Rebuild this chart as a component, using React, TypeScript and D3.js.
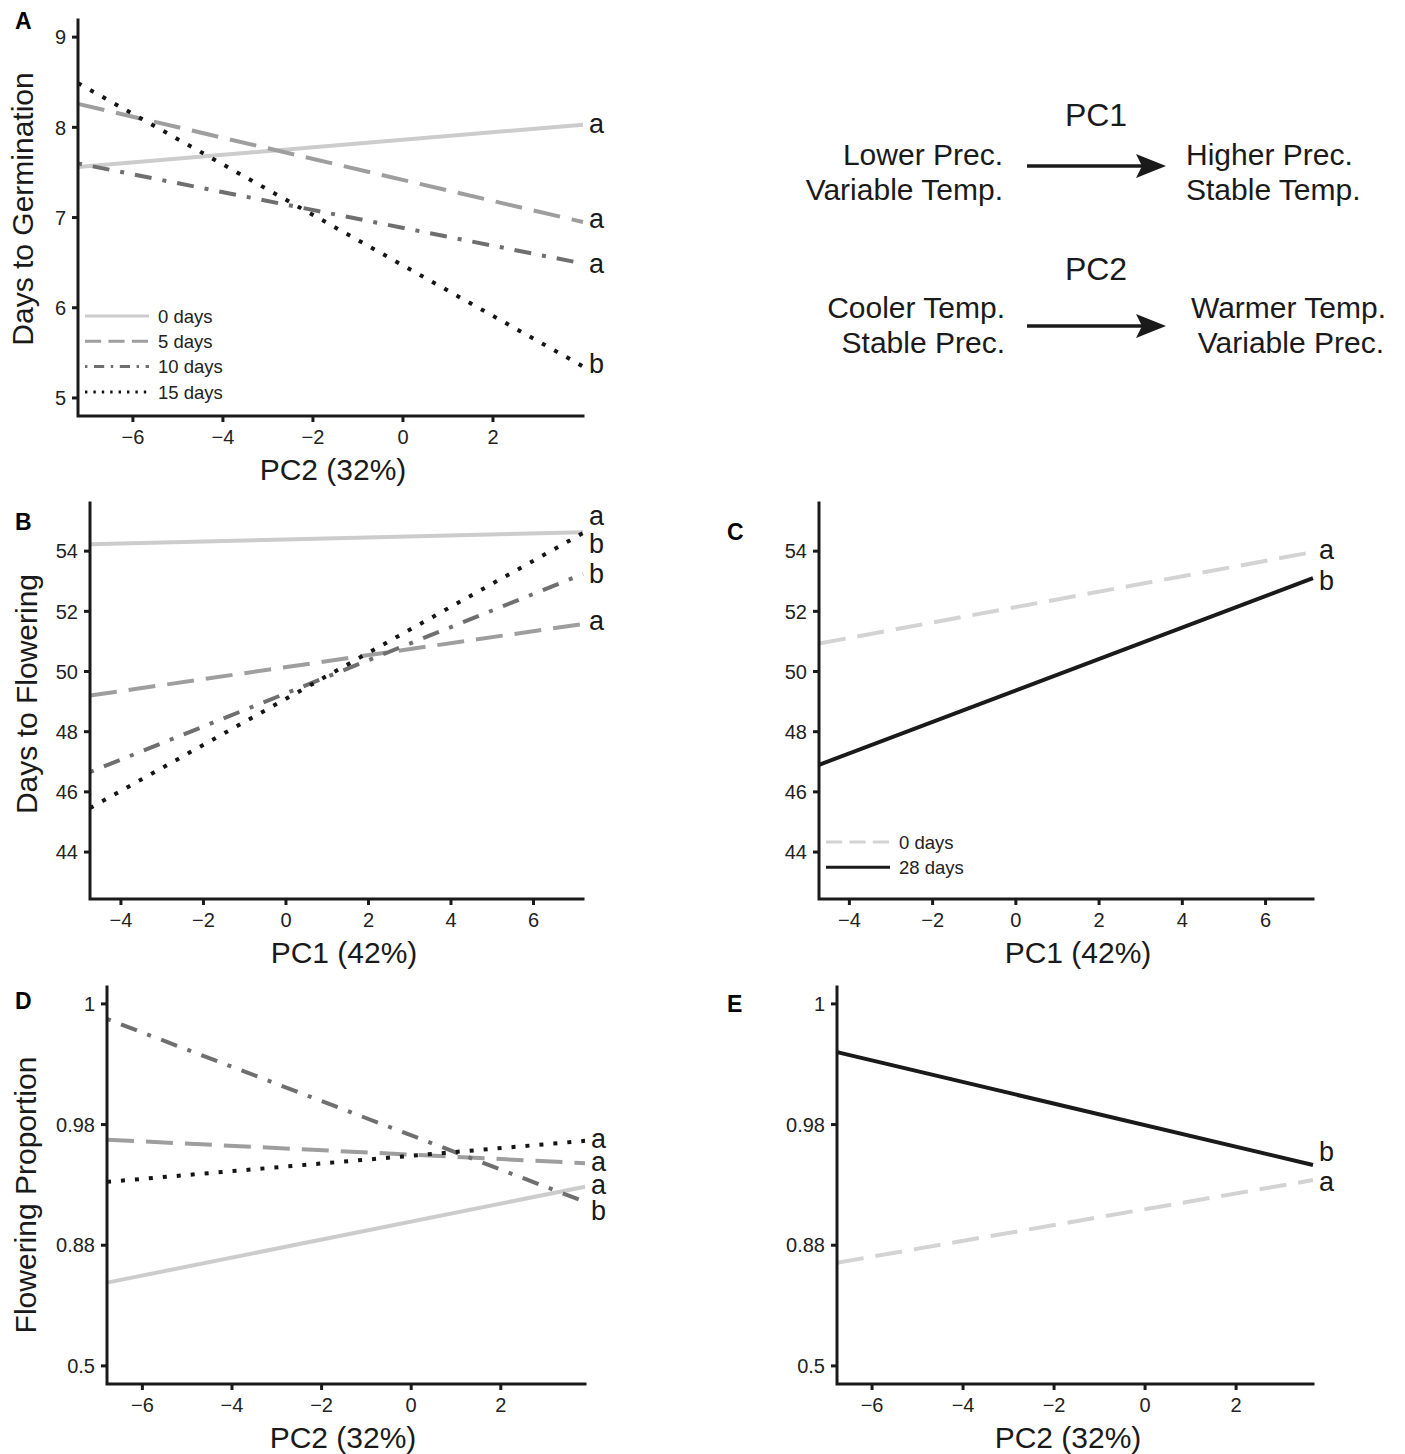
import * as d3 from "d3";

// ---- data ----

// A: days to germination vs PC2
const germX = [-7.22, 4.0];
const germSeries = ["0 days", "5 days", "10 days", "15 days"];
const germStart = [7.56, 8.26, 7.6, 8.49];
const germEnd = [8.03, 6.95, 6.49, 5.35];
const germLetters = ["a", "a", "a", "b"];
const germLetterY = [8.03, 6.97, 6.47, 5.37];
const germYTicks = [5, 6, 7, 8, 9];
const pc2Ticks = [-6, -4, -2, 0, 2];

// B: days to flowering vs PC1, four treatments
const flowX = [-4.75, 7.2];
const flowStart = [54.23, 49.2, 46.66, 45.46];
const flowEnd = [54.63, 51.58, 53.24, 54.6];
const flowLetters = ["a", "a", "b", "b"];
const flowLetterY = [55.13, 51.64, 53.2, 54.2];
const flowYTicks = [44, 46, 48, 50, 52, 54];
const pc1Ticks = [-4, -2, 0, 2, 4, 6];

// C: days to flowering vs PC1, two treatments
const vernSeries = ["0 days", "28 days"];
const vernX = [-4.73, 7.14];
const vernStart = [50.93, 46.9];
const vernEnd = [53.97, 53.1];
const vernLetters = ["a", "b"];
const vernLetterY = [54.0, 52.97];

// D: flowering proportion (logit scale) vs PC2, four treatments
const propX = [-6.79, 3.88];
const propStart = [1.38, 3.75, 5.75, 3.05];
const propEnd = [2.97, 3.36, 2.72, 3.73];
const propLetters = ["a", "a", "b", "a"];
const propLetterY = [2.98, 3.36, 2.55, 3.75];
const logitTicks = [0, 2, 4, 6];
const logitLabels = ["0.5", "0.88", "0.98", "1"];

// E: flowering proportion vs PC2, two treatments
const prop2X = [-6.77, 3.69];
const prop2Start = [1.71, 5.2];
const prop2End = [3.08, 3.33];
const prop2Letters = ["a", "b"];
const prop2LetterY = [3.03, 3.53];

// ---- styles ----
const FONT = "'Liberation Sans', Arial, Helvetica, sans-serif";
const styleFour: Record<string, { stroke: string; dash: string }> = {
  "0 days": { stroke: "#cccccc", dash: "" },
  "5 days": { stroke: "#9e9e9e", dash: "27,12" },
  "10 days": { stroke: "#6f6f6f", dash: "4,11,17,11" },
  "15 days": { stroke: "#151515", dash: "4,10" },
};
const styleTwo: Record<string, { stroke: string; dash: string }> = {
  "0 days": { stroke: "#d3d3d3", dash: "27,12" },
  "28 days": { stroke: "#1a1a1a", dash: "" },
};

type Frame = { left: number; right: number; top: number; bottom: number };

function Panel({
  frame, xDomain, yDomain, xTicks, yTicks, yFormat, series, starts, ends,
  letters, letterY, styles, legend, tag, tagPos, xTitle, xTitleX, yTitle, yTitlePos,
}: {
  frame: Frame; xDomain: number[]; yDomain: number[]; xTicks: number[];
  yTicks: number[]; yFormat: (d: number, i: number) => string;
  series: string[]; starts: number[]; ends: number[];
  letters: string[]; letterY: number[];
  styles: Record<string, { stroke: string; dash: string }>;
  legend?: { x: number; y: number };
  tag: string; tagPos: [number, number];
  xTitle: string; xTitleX: number; yTitle?: string; yTitlePos?: [number, number];
}) {
  const x = d3.scaleLinear(xDomain, [frame.left, frame.right]);
  const y = d3.scaleLinear(yDomain, [frame.bottom, frame.top]);
  const fmt = d3.format("d");
  return (
    <g>
      <text x={tagPos[0]} y={tagPos[1]} fontFamily={FONT} fontWeight="bold" fontSize={23}>{tag}</text>
      {series.map((s, i) => (
        <line key={s} x1={x(xDomain[0])} y1={y(starts[i])} x2={x(xDomain[1])} y2={y(ends[i])}
          stroke={styles[s].stroke} strokeWidth={4} strokeDasharray={styles[s].dash || undefined} />
      ))}
      {letters.map((l, i) => (
        <text key={i} x={frame.right + 6} y={y(letterY[i]) + 8} fontFamily={FONT} fontSize={27} fill="#1a1a1a">{l}</text>
      ))}
      {/* axes */}
      <path d={`M${frame.left},${frame.top}V${frame.bottom}H${frame.right}`} fill="none" stroke="#1a1a1a" strokeWidth={3} strokeLinecap="square" />
      {yTicks.map((t, i) => (
        <g key={t} transform={`translate(${frame.left},${y(t)})`}>
          <line x1={-6} x2={0} stroke="#1a1a1a" strokeWidth={3} />
          <text x={-12} dy="0.36em" textAnchor="end" fontFamily={FONT} fontSize={20} fill="#222">{yFormat(t, i)}</text>
        </g>
      ))}
      {xTicks.map((t) => (
        <g key={t} transform={`translate(${x(t)},${frame.bottom})`}>
          <line y1={0} y2={6} stroke="#1a1a1a" strokeWidth={3} />
          <text y={28} textAnchor="middle" fontFamily={FONT} fontSize={20} fill="#222">{fmt(t)}</text>
        </g>
      ))}
      <text x={xTitleX} y={frame.bottom + 64} textAnchor="middle" fontFamily={FONT} fontSize={30} fill="#1a1a1a">{xTitle}</text>
      {yTitle && yTitlePos && (
        <text transform={`translate(${yTitlePos[0]},${yTitlePos[1]}) rotate(-90)`} textAnchor="middle" fontFamily={FONT} fontSize={30} fill="#1a1a1a">{yTitle}</text>
      )}
      {legend && series.map((s, i) => (
        <g key={s} transform={`translate(${legend.x},${legend.y + i * 25.3})`}>
          <line x1={0} x2={64} stroke={styles[s].stroke} strokeWidth={3} strokeDasharray={styles[s].dash ? styles[s].dash.split(",").map((v) => +v * 0.6).join(",") : undefined} />
          <text x={73} dy="0.36em" fontFamily={FONT} fontSize={18.5} fill="#222">{s}</text>
        </g>
      ))}
    </g>
  );
}

function Diagram() {
  const t = { fontFamily: FONT, fontSize: 30, fill: "#1a1a1a" } as const;
  const arrow = (yy: number) => (
    <g>
      <line x1={1027} x2={1145} y1={yy} y2={yy} stroke="#1a1a1a" strokeWidth={3.5} />
      <path d={`M1166,${yy} L1136,${yy - 12} L1142,${yy} L1136,${yy + 12} Z`} fill="#1a1a1a" />
    </g>
  );
  return (
    <g>
      <text x={1096} y={126} textAnchor="middle" {...t} fontSize={32}>PC1</text>
      <text x={1003} y={165} textAnchor="end" {...t}>Lower Prec.</text>
      <text x={1003} y={200} textAnchor="end" {...t}>Variable Temp.</text>
      {arrow(166)}
      <text x={1186} y={165} {...t}>Higher Prec.</text>
      <text x={1186} y={200} {...t}>Stable Temp.</text>
      <text x={1096} y={280} textAnchor="middle" {...t} fontSize={32}>PC2</text>
      <text x={1005} y={318} textAnchor="end" {...t}>Cooler Temp.</text>
      <text x={1005} y={353} textAnchor="end" {...t}>Stable Prec.</text>
      {arrow(326)}
      <text x={1386} y={318} textAnchor="end" {...t}>Warmer Temp.</text>
      <text x={1384} y={353} textAnchor="end" {...t}>Variable Prec.</text>
    </g>
  );
}

export default function App() {
  const intFmt = (d: number) => String(d);
  const logitFmt = (_d: number, i: number) => logitLabels[i];
  return (
    <svg width={1405} height={1454} style={{ position: "absolute", left: 0, top: 0, background: "#fff" }}>
      <Panel frame={{ left: 78, right: 583, top: 20, bottom: 416 }} xDomain={germX} yDomain={[4.8, 9.19]}
        xTicks={pc2Ticks} yTicks={germYTicks} yFormat={intFmt}
        series={germSeries} starts={germStart} ends={germEnd} letters={germLetters} letterY={germLetterY}
        styles={styleFour} legend={{ x: 85, y: 316 }} tag="A" tagPos={[15, 29]}
        xTitle="PC2 (32%)" xTitleX={333} yTitle="Days to Germination" yTitlePos={[33, 209]} />
      <Diagram />
      <Panel frame={{ left: 90, right: 583, top: 503, bottom: 899 }} xDomain={flowX} yDomain={[42.44, 55.6]}
        xTicks={pc1Ticks} yTicks={flowYTicks} yFormat={intFmt}
        series={germSeries} starts={flowStart} ends={flowEnd} letters={flowLetters} letterY={flowLetterY}
        styles={styleFour} tag="B" tagPos={[15, 530]}
        xTitle="PC1 (42%)" xTitleX={344} yTitle="Days to Flowering" yTitlePos={[37, 694]} />
      <Panel frame={{ left: 819, right: 1313, top: 503, bottom: 899 }} xDomain={vernX} yDomain={[42.44, 55.6]}
        xTicks={pc1Ticks} yTicks={flowYTicks} yFormat={intFmt}
        series={vernSeries} starts={vernStart} ends={vernEnd} letters={vernLetters} letterY={vernLetterY}
        styles={styleTwo} legend={{ x: 826, y: 842 }} tag="C" tagPos={[727, 540]}
        xTitle="PC1 (42%)" xTitleX={1078} />
      <Panel frame={{ left: 107, right: 585, top: 987, bottom: 1384 }} xDomain={propX} yDomain={[-0.3, 6.28]}
        xTicks={pc2Ticks} yTicks={logitTicks} yFormat={logitFmt}
        series={germSeries} starts={propStart} ends={propEnd} letters={propLetters} letterY={propLetterY}
        styles={styleFour} tag="D" tagPos={[15, 1009]}
        xTitle="PC2 (32%)" xTitleX={343} yTitle="Flowering Proportion" yTitlePos={[36, 1195]} />
      <Panel frame={{ left: 837, right: 1313, top: 987, bottom: 1384 }} xDomain={prop2X} yDomain={[-0.3, 6.28]}
        xTicks={pc2Ticks} yTicks={logitTicks} yFormat={logitFmt}
        series={vernSeries} starts={prop2Start} ends={prop2End} letters={prop2Letters} letterY={prop2LetterY}
        styles={styleTwo} tag="E" tagPos={[727, 1012]}
        xTitle="PC2 (32%)" xTitleX={1068} />
    </svg>
  );
}
